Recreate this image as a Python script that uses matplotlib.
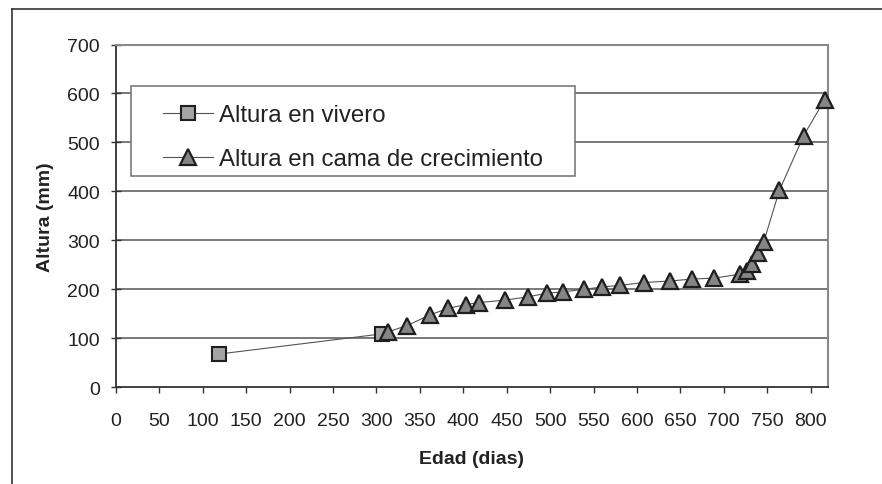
import matplotlib
matplotlib.use("Agg")
import matplotlib.pyplot as plt
from matplotlib.lines import Line2D
from matplotlib.patches import Rectangle

plt.rcParams['font.family'] = ['Liberation Sans', 'DejaVu Sans']

# Altura en vivero (nursery)
vivero_edad = [119, 306]
vivero_altura = [68, 109]

# Altura en cama de crecimiento (growth bed)
cama_edad = [313, 335, 362, 382, 403, 418, 448, 475, 496, 515, 539, 560,
             580, 608, 638, 663, 689, 719, 727, 733, 739, 746, 764, 792, 816]
cama_altura = [113, 126, 148, 161, 169, 173, 178, 185, 192, 195, 200, 205,
               208, 214, 217, 221, 223, 231, 238, 251, 275, 297, 402, 514, 587]

xticks = list(range(0, 801, 50))
yticks = list(range(0, 701, 100))

fig = plt.figure(figsize=(8.82, 4.85), dpi=100)
W, H = 882, 485
ax = fig.add_axes([116 / W, 1 - 388.3 / H, (828 - 116) / W, (388.3 - 45.5) / H])

# outer chart frame (only left and top edges visible in the crop)
fig.add_artist(Line2D([12 / W, 12 / W], [0, 1 - 10 / H], color='#333333', lw=1.2))
fig.add_artist(Line2D([12 / W, 1], [1 - 10 / H, 1 - 10 / H], color='#333333', lw=1.2))

ax.set_xlim(0, 820)
ax.set_ylim(0, 700)
ax.set_xticks(xticks)
ax.set_yticks(yticks)
ax.tick_params(axis='x', direction='out', length=4, width=1, color='#333333',
               pad=14, labelsize=14, labelcolor='#222222')
ax.tick_params(axis='y', direction='inout', length=7, width=1, color='#333333',
               pad=8, labelsize=14, labelcolor='#222222')

for y in yticks[1:-1]:
    ax.axhline(y, color='#555555', lw=1.1, zorder=1)

ax.spines['left'].set_color('#333333')
ax.spines['bottom'].set_color('#333333')
ax.spines['left'].set_linewidth(1.3)
ax.spines['bottom'].set_linewidth(1.3)
ax.spines['top'].set_color('#8a8a8a')
ax.spines['right'].set_color('#8a8a8a')
ax.spines['top'].set_linewidth(1.5)
ax.spines['right'].set_linewidth(1.5)

ax.plot(vivero_edad, vivero_altura, '-', color='#555555', lw=0.8,
        marker='s', ms=9.5, mfc='#a4a4a4', mec='#1e1e1e', mew=1.5,
        label='Altura en vivero', zorder=3, clip_on=False)
ax.plot(cama_edad, cama_altura, '-', color='#555555', lw=0.8,
        marker='^', ms=11, mfc='#858585', mec='#1e1e1e', mew=1.6,
        label='Altura en cama de crecimiento', zorder=3, clip_on=False)

ax.set_xlabel('Edad (dias)', fontsize=14, fontweight='bold', color='#222222')
ax.set_ylabel('Altura (mm)', fontsize=14, fontweight='bold', color='#222222')
ax.xaxis.label.set_va('center')
ax.yaxis.label.set_va('center')
ax.xaxis.set_label_coords(0.5, (388.3 - 460) / 342.8)
ax.yaxis.set_label_coords((45 - 116) / 712, 0.5)

# legend box
x0, x1 = (130.7 - 116) / 712, (575 - 116) / 712
y0, y1 = (388.3 - 176.7) / 342.8, (388.3 - 86.7) / 342.8
ax.add_patch(Rectangle((x0, y0), x1 - x0, y1 - y0, transform=ax.transAxes,
                       facecolor='white', edgecolor='#7a7a7a', lw=1.2, zorder=4))
leg = ax.legend(loc='upper left', bbox_to_anchor=((163 - 116) / 712, (388.3 - 105) / 342.8),
                frameon=False, fontsize=17.3, borderpad=0, borderaxespad=0,
                handlelength=2.1, handletextpad=0.25, labelspacing=0.92,
                numpoints=1)
leg.set_zorder(5)
for t in leg.get_texts():
    t.set_color('#222222')

fig.savefig('out.png', dpi=100)
